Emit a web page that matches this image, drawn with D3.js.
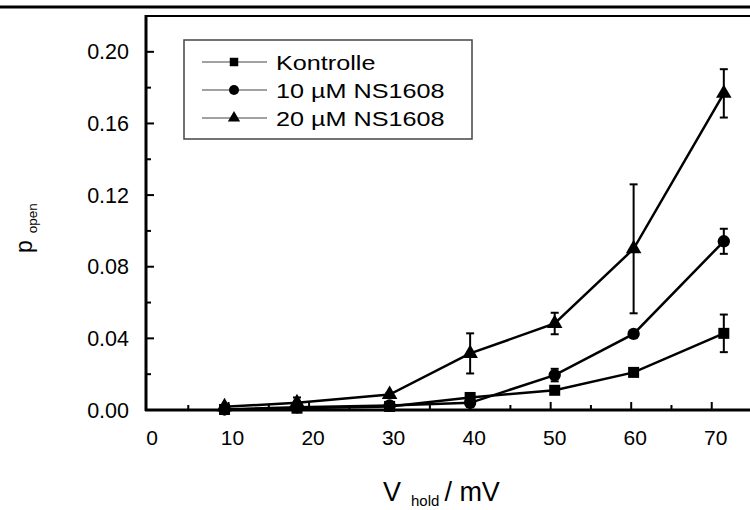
<!DOCTYPE html>
<html>
<head>
<meta charset="utf-8" />
<title>p open</title>
<script src="https://cdn.jsdelivr.net/npm/d3@7"></script>
<style>
  body { margin: 0; background: #fff; }
  text { font-family: "Liberation Sans", Arial, sans-serif; fill: #000; }
</style>
</head>
<body>
<svg width="750" height="510"></svg>
<script>
// measured holding voltages (mV)
var vHold = [9.5, 18.5, 30, 40, 50.5, 60.3, 71.5];

var kontrolle = [0.0003, 0.001, 0.002, 0.007, 0.011, 0.021, 0.0428];
var kontrolleErr = [0, 0.0005, 0.0005, 0.002, 0.001, 0.001, 0.0105];

var ns10 = [0.0003, 0.0015, 0.0025, 0.004, 0.0195, 0.0425, 0.0942];
var ns10Err = [0, 0.001, 0.001, 0.004, 0.0035, 0.001, 0.007];

var ns20 = [0.0018, 0.004, 0.0086, 0.0316, 0.0483, 0.09, 0.1768];
var ns20Err = [0.001, 0.003, 0.001, 0.0112, 0.006, 0.036, 0.0135];

var seriesNames = ["Kontrolle", "10 \u00b5M NS1608", "20 \u00b5M NS1608"];
var xTicks = [0, 10, 20, 30, 40, 50, 60, 70];
var yTicks = [0, 0.04, 0.08, 0.12, 0.16, 0.20];

var svg = d3.select("svg");

var x = d3.scaleLinear().domain([-0.25, 75]).range([146, 752]);
var y = d3.scaleLinear().domain([0, 0.22]).range([410, 16]);

var series = [
  {name: seriesNames[0], vals: kontrolle, err: kontrolleErr, sym: d3.symbolSquare, size: 121, lsize: 72},
  {name: seriesNames[1], vals: ns10, err: ns10Err, sym: d3.symbolCircle, size: 120, lsize: 78},
  {name: seriesNames[2], vals: ns20, err: ns20Err, sym: d3.symbolTriangle, size: 105, lsize: 65}
];

// thick rule at top of page
svg.append("line")
  .attr("x1", 0).attr("x2", 750)
  .attr("y1", 7).attr("y2", 7)
  .attr("stroke", "#000").attr("stroke-width", 3);

// frame (right side runs off the page)
svg.append("rect")
  .attr("x", x.range()[0]).attr("y", y.range()[1])
  .attr("width", 620).attr("height", y.range()[0] - y.range()[1])
  .attr("fill", "none").attr("stroke", "#000").attr("stroke-width", 2);

// x axis: ticks inward
var xAxis = svg.append("g").attr("transform", "translate(0," + y(0) + ")");
xAxis.selectAll(".minor").data(d3.range(5, 75, 10)).enter().append("line")
  .attr("x1", d => x(d)).attr("x2", d => x(d))
  .attr("y1", 0).attr("y2", -5)
  .attr("stroke", "#000").attr("stroke-width", 2);
xAxis.selectAll(".major").data(xTicks.slice(1)).enter().append("line")
  .attr("x1", d => x(d)).attr("x2", d => x(d))
  .attr("y1", 0).attr("y2", -8)
  .attr("stroke", "#000").attr("stroke-width", 2);
xAxis.selectAll("text").data(xTicks).enter().append("text")
  .attr("x", d => x(d) + 4).attr("y", 35)
  .attr("text-anchor", "middle")
  .attr("font-size", 21)
  .text(d => d);
xAxis.append("line")
  .attr("x1", x.range()[0] - 1).attr("x2", 750)
  .attr("stroke", "#000").attr("stroke-width", 3);

// y axis: ticks inward
var yAxis = svg.append("g").attr("transform", "translate(" + x.range()[0] + ",0)");
yAxis.selectAll(".minor").data([0.02, 0.06, 0.10, 0.14, 0.18]).enter().append("line")
  .attr("y1", d => y(d)).attr("y2", d => y(d))
  .attr("x1", 0).attr("x2", 5)
  .attr("stroke", "#000").attr("stroke-width", 2);
yAxis.selectAll(".major").data(yTicks).enter().append("line")
  .attr("y1", d => y(d)).attr("y2", d => y(d))
  .attr("x1", 0).attr("x2", 8)
  .attr("stroke", "#000").attr("stroke-width", 2);
yAxis.selectAll("text").data(yTicks).enter().append("text")
  .attr("x", -17).attr("y", d => y(d))
  .attr("dy", "0.35em")
  .attr("text-anchor", "end")
  .attr("font-size", 21.5)
  .text(d => d3.format(".2f")(d));
yAxis.append("line")
  .attr("y1", y.range()[1] - 1).attr("y2", y.range()[0] + 1)
  .attr("stroke", "#000").attr("stroke-width", 3);

// axis titles
var xt = svg.append("text").attr("x", 383).attr("y", 501).attr("font-size", 27);
xt.append("tspan").text("V");
xt.append("tspan").attr("dx", 10).attr("dy", 5).attr("font-size", 15).text("hold");
xt.append("tspan").attr("dx", 5).attr("dy", -5).text("/ mV");

var yt = svg.append("text").attr("transform", "translate(32,253) rotate(-90)").attr("font-size", 23);
yt.append("tspan").text("p");
yt.append("tspan").attr("dx", 7).attr("dy", 5).attr("font-size", 13.5).text("open");

// data
var line = d3.line().x((d, i) => x(vHold[i])).y(d => y(d));

series.forEach(function(s) {
  var g = svg.append("g");
  g.append("path")
    .attr("d", line(s.vals))
    .attr("fill", "none").attr("stroke", "#000").attr("stroke-width", 2.5);

  var eb = g.selectAll(".err").data(s.vals.map((v, i) => ({x: vHold[i], v: v, e: s.err[i]})).filter(d => d.e > 0))
    .enter().append("g");
  eb.append("line")
    .attr("x1", d => x(d.x)).attr("x2", d => x(d.x))
    .attr("y1", d => y(d.v + d.e)).attr("y2", d => y(d.v - d.e))
    .attr("stroke", "#000").attr("stroke-width", 2);
  [1, -1].forEach(function(sign) {
    eb.append("line")
      .attr("x1", d => x(d.x) - 4).attr("x2", d => x(d.x) + 4)
      .attr("y1", d => y(d.v + sign * d.e)).attr("y2", d => y(d.v + sign * d.e))
      .attr("stroke", "#000").attr("stroke-width", 2);
  });

  g.selectAll(".pt").data(s.vals).enter().append("path")
    .attr("transform", (d, i) => "translate(" + x(vHold[i]) + "," + y(d) + ")")
    .attr("d", d3.symbol().type(s.sym).size(s.size))
    .attr("fill", "#000");
});

// legend
var legend = svg.append("g");
legend.append("rect")
  .attr("x", 184).attr("y", 40).attr("width", 288).attr("height", 99)
  .attr("fill", "#fff").attr("stroke", "#444").attr("stroke-width", 1.5);
var rows = legend.selectAll(".row").data(series).enter().append("g")
  .attr("transform", (d, i) => "translate(0," + (62 + i * 28) + ")");
rows.append("line")
  .attr("x1", 202).attr("x2", 267)
  .attr("stroke", "#444").attr("stroke-width", 1.2);
rows.append("path")
  .attr("transform", "translate(234,0)")
  .attr("d", d => d3.symbol().type(d.sym).size(d.lsize)())
  .attr("fill", "#000");
// legend lettering in the original is drawn wide
rows.append("text")
  .attr("transform", "translate(276,0) scale(1.2,1)")
  .attr("dy", "0.36em")
  .attr("font-size", 21)
  .text(d => d.name);
</script>
</body>
</html>
